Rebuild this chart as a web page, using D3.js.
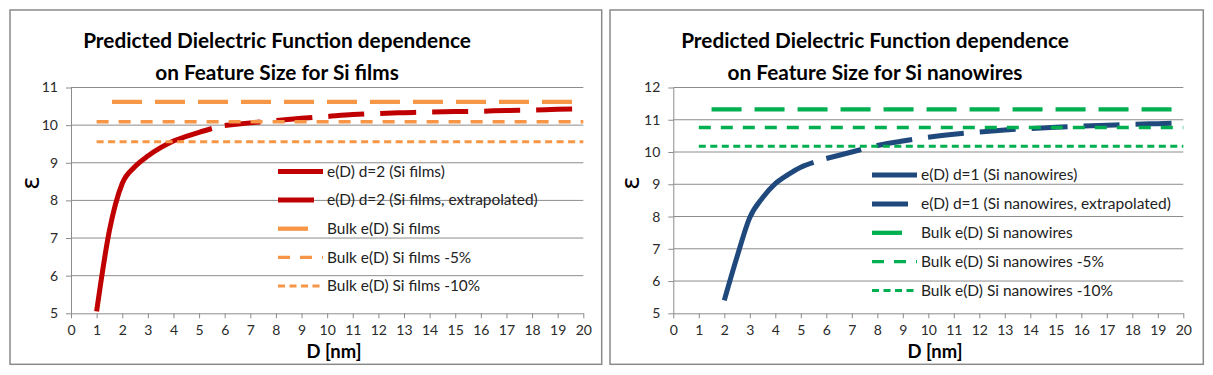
<!DOCTYPE html>
<html>
<head>
<meta charset="utf-8">
<script src="https://cdn.jsdelivr.net/npm/d3@7"></script>
<style>
  body { margin: 0; background: #fff; }
  text { font-family: Lato, "Open Sans", sans-serif; }
</style>
</head>
<body>
<div id="root"></div>
<script>
// ---- data ----
const xTicks = [0, 1, 2, 3, 4, 5, 6, 7, 8, 9, 10, 11, 12, 13, 14, 15, 16, 17, 18, 19, 20];
const filmsYTicks = [5, 6, 7, 8, 9, 10, 11];
const wiresYTicks = [5, 6, 7, 8, 9, 10, 11, 12];

const filmsD = [1, 1.5, 2, 2.5, 3, 3.5, 4, 4.5, 5, 5.5];
const filmsEps = [5.05, 7.2, 8.45, 8.9, 9.18, 9.4, 9.58, 9.7, 9.81, 9.91];
const filmsExtD = [6, 7, 8, 9, 10, 11, 12, 13, 14, 15, 16, 17, 18, 19, 20];
const filmsExtEps = [9.99, 10.06, 10.12, 10.18, 10.23, 10.28, 10.31, 10.33, 10.35, 10.36, 10.37, 10.39, 10.4, 10.42, 10.43];
const filmsBulk = [10.62, 10.09, 9.56];      // bulk, -5%, -10%
const filmsBulkStart = [1.6, 1, 1];

const wiresD = [2, 2.5, 3, 3.5, 4, 4.5, 5, 5.5];
const wiresEps = [5.4, 6.75, 7.97, 8.58, 9.02, 9.3, 9.53, 9.68];
const wiresExtD = [6, 7, 8, 9, 10, 11, 12, 13, 14, 15, 16, 17, 18, 19, 20];
const wiresExtEps = [9.8, 10.0, 10.2, 10.34, 10.46, 10.55, 10.62, 10.68, 10.73, 10.77, 10.8, 10.83, 10.86, 10.88, 10.9];
const wiresBulk = [11.32, 10.76, 10.18];
const wiresBulkStart = [1.5, 1, 1];

const filmsLabels = ["e(D) d=2 (Si films)", "e(D) d=2 (Si films, extrapolated)", "Bulk e(D) Si films",
  "Bulk e(D) Si films -5%", "Bulk e(D) Si films -10%"];
const wiresLabels = ["e(D) d=1 (Si nanowires)", "e(D) d=1 (Si nanowires, extrapolated)", "Bulk e(D) Si nanowires",
  "Bulk e(D) Si nanowires -5%", "Bulk e(D) Si nanowires -10%"];

const w = 1213;
const h = 375;
const plotTop = 87.5;
const plotBottom = 313.3;
const gridColor = "#8c8c8c";

const svg = d3.select("#root")
  .append("svg")
  .attr("width", w)
  .attr("height", h);

// shrink/grow a text's font so it spans the wanted width
function fitWidth(text, target) {
  const len = text.node().getComputedTextLength();
  const size = parseFloat(text.attr("font-size"));
  const fs = size * target / len;
  text.attr("font-size", fs);
  return fs;
}

function drawPanel(p) {
  const g = svg.append("g");

  g.append("rect")
    .attr("x", p.box[0])
    .attr("y", p.box[1])
    .attr("width", p.box[2])
    .attr("height", p.box[3])
    .attr("fill", "#fff")
    .attr("stroke", "#8a8a8a")
    .attr("stroke-width", 1.5);

  const xScale = d3.scaleLinear().domain([0, 20]).range([p.left, p.right]);
  const yScale = d3.scaleLinear().domain(d3.extent(p.yTicks)).range([plotBottom, plotTop]);

  // horizontal gridlines
  g.append("g")
    .selectAll("line")
    .data(p.yTicks.slice(1))
    .join("line")
    .attr("x1", p.left)
    .attr("x2", p.right)
    .attr("y1", d => yScale(d))
    .attr("y2", d => yScale(d))
    .attr("stroke", gridColor)
    .attr("stroke-width", 1);

  const xAxis = d3.axisBottom(xScale).tickValues(xTicks).tickFormat(d3.format("d"))
    .tickSize(5).tickPadding(7).tickSizeOuter(0);
  const yAxis = d3.axisLeft(yScale).tickValues(p.yTicks).tickFormat(d3.format("d"))
    .tickSize(5).tickPadding(8).tickSizeOuter(0);

  const xg = g.append("g")
    .attr("transform", `translate(0, ${plotBottom})`)
    .call(xAxis);
  const yg = g.append("g")
    .attr("transform", `translate(${p.left}, 0)`)
    .call(yAxis);

  [xg, yg].forEach(a => {
    a.select(".domain").attr("stroke", gridColor);
    a.selectAll(".tick line").attr("stroke", gridColor);
    a.selectAll(".tick text")
      .attr("fill", "#2a2a2a")
      .attr("font-size", 14)
      .style("font-family", "Lato, sans-serif");
  });

  // series, in the order of the legend
  const line = d3.line()
    .x(d => xScale(d[0]))
    .y(d => yScale(d[1]))
    .curve(d3.curveMonotoneX);

  const series = [
    { pts: d3.zip(p.d, p.eps), color: p.dark, width: 5, dash: null },
    { pts: d3.zip(p.extD, p.extEps), color: p.dark, width: 5, dash: "36,16" },
    { pts: [[p.bulkStart[0], p.bulk[0]], [20, p.bulk[0]]], color: p.light, width: 4.3, dash: "30,13" },
    { pts: [[p.bulkStart[1], p.bulk[1]], [20, p.bulk[1]]], color: p.light, width: 3.3, dash: "12,10" },
    { pts: [[p.bulkStart[2], p.bulk[2]], [20, p.bulk[2]]], color: p.light, width: 3, dash: "7,4.5" }
  ];

  g.append("g")
    .selectAll("path")
    .data(series)
    .join("path")
    .attr("d", d => line(d.pts))
    .attr("fill", "none")
    .attr("stroke", d => d.color)
    .attr("stroke-width", d => d.width)
    .attr("stroke-dasharray", d => d.dash)
    .attr("stroke-linejoin", "round");

  // legend
  const legLen = [45, 37, 30, 45, 45];
  const leg = g.append("g");
  leg.selectAll("line")
    .data(series)
    .join("line")
    .attr("x1", p.legendX)
    .attr("x2", (d, i) => p.legendX + legLen[i])
    .attr("y1", (d, i) => p.legendY + i * p.legendStep)
    .attr("y2", (d, i) => p.legendY + i * p.legendStep)
    .attr("stroke", d => d.color)
    .attr("stroke-width", d => d.width)
    .attr("stroke-dasharray", d => d.dash);

  const legText = leg.selectAll("text")
    .data(p.labels)
    .join("text")
    .attr("x", p.legendX + 49)
    .attr("y", (d, i) => p.legendY + i * p.legendStep)
    .attr("dy", "0.35em")
    .attr("font-size", 14)
    .attr("fill", "#222")
    .text(d => d);
  const legSize = fitWidth(legText.filter((d, i) => i === 1), p.legendLongW);
  legText.attr("font-size", legSize);

  // title
  const t1 = g.append("text")
    .attr("x", p.titleX)
    .attr("y", 48)
    .attr("text-anchor", "middle")
    .attr("font-weight", "bold")
    .attr("font-size", 20)
    .attr("fill", "#000")
    .text("Predicted Dielectric Function dependence");
  const ts = fitWidth(t1, 388);
  g.append("text")
    .attr("x", p.titleX)
    .attr("y", 80)
    .attr("text-anchor", "middle")
    .attr("font-weight", "bold")
    .attr("font-size", ts)
    .attr("fill", "#000")
    .text(p.subtitle);

  // axis titles
  const xt = g.append("text")
    .attr("x", p.xTitleX)
    .attr("y", 358)
    .attr("text-anchor", "middle")
    .attr("font-weight", "bold")
    .attr("font-size", 17)
    .text("D [nm]");
  fitWidth(xt, 55);

  g.append("text")
    .attr("transform", `translate(${p.yTitleX}, 183) rotate(-90)`)
    .attr("text-anchor", "middle")
    .attr("dy", "0.35em")
    .attr("font-size", 25)
    .style("font-family", "'DejaVu Sans', sans-serif")
    .text("ε");
}

drawPanel({
  box: [10, 10, 591.7, 354.3],
  left: 71, right: 583.3,
  yTicks: filmsYTicks,
  d: filmsD, eps: filmsEps, extD: filmsExtD, extEps: filmsExtEps,
  bulk: filmsBulk, bulkStart: filmsBulkStart,
  dark: "#c00000", light: "#f79646",
  labels: filmsLabels,
  legendX: 278, legendY: 171.5, legendStep: 28.6, legendLongW: 211,
  titleX: 277, subtitle: "on Feature Size for Si films",
  xTitleX: 334, yTitleX: 30
});

drawPanel({
  box: [610, 10, 593.3, 354.3],
  left: 673.3, right: 1183.3,
  yTicks: wiresYTicks,
  d: wiresD, eps: wiresEps, extD: wiresExtD, extEps: wiresExtEps,
  bulk: wiresBulk, bulkStart: wiresBulkStart,
  dark: "#1f497d", light: "#00b050",
  labels: wiresLabels,
  legendX: 872, legendY: 175, legendStep: 28.9, legendLongW: 250,
  titleX: 875, subtitle: "on Feature Size for Si nanowires",
  xTitleX: 935, yTitleX: 630
});
</script>
</body>
</html>
